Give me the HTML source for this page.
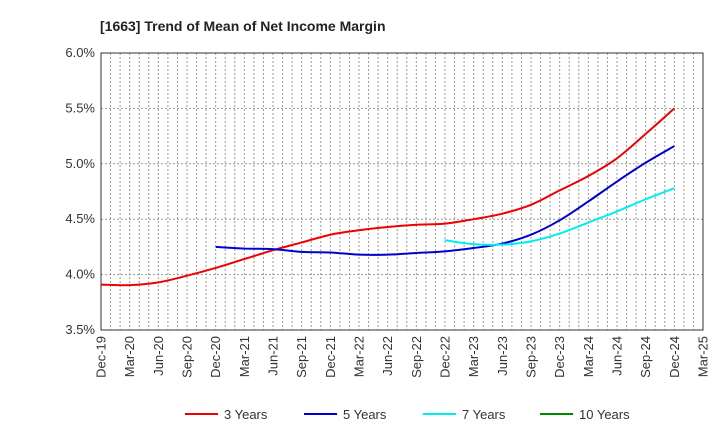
<!DOCTYPE html>
<html><head><meta charset="utf-8"><style>
body{margin:0;background:#fff;font-family:"Liberation Sans",sans-serif}
</style></head><body>
<svg id="c" width="720" height="440" xmlns="http://www.w3.org/2000/svg">
<text x="100" y="31" font-size="14" font-weight="bold" fill="#222">[1663]  Trend of Mean of Net Income Margin</text>
</svg>
<script>
const xLabels=["Dec-19","Mar-20","Jun-20","Sep-20","Dec-20","Mar-21","Jun-21","Sep-21","Dec-21","Mar-22","Jun-22","Sep-22","Dec-22","Mar-23","Jun-23","Sep-23","Dec-23","Mar-24","Jun-24","Sep-24","Dec-24","Mar-25"];
const yTicks=[3.5,4.0,4.5,5.0,5.5,6.0];
const s3=[3.91,3.905,3.93,3.99,4.06,4.14,4.22,4.29,4.36,4.40,4.43,4.45,4.46,4.50,4.55,4.63,4.76,4.89,5.05,5.27,5.50];
const s5=[null,null,null,null,4.25,4.235,4.23,4.205,4.20,4.18,4.18,4.195,4.21,4.24,4.28,4.36,4.49,4.66,4.84,5.01,5.16];
const s7=[null,null,null,null,null,null,null,null,null,null,null,null,4.31,4.275,4.27,4.30,4.37,4.47,4.57,4.68,4.78];
const s10=[];
const L=101,R=703,T=53,B=330;
const svg=document.getElementById('c'),NS="http://www.w3.org/2000/svg";
const X=i=>L+(R-L)*i/(xLabels.length-1);
const Y=v=>B-(v-3.5)/(6.0-3.5)*(B-T);
function mk(t,a,p){const e=document.createElementNS(NS,t);for(const k in a)e.setAttribute(k,a[k]);(p||svg).appendChild(e);return e;}
for(let m=1;m<(xLabels.length-1)*3;m++){const x=L+(R-L)*m/((xLabels.length-1)*3);
const g=mk('line',{x1:x,x2:x,y1:T,y2:B,stroke:'#999','stroke-dasharray':'2,2','stroke-width':1});
}
yTicks.forEach(v=>{const y=Y(v);
if(v>3.5&&v<6){const g=mk('line',{x1:L,x2:R,y1:y,y2:y,stroke:'#999','stroke-dasharray':'2,2'});}
const t=mk('text',{x:L-6,y:y+4,'text-anchor':'end','font-size':13,fill:'#333'});t.textContent=v.toFixed(1)+'%';
});
xLabels.forEach((l,i)=>{const x=X(i);const t=mk('text',{transform:`translate(${x+4.5},${B+6}) rotate(-90)`,'text-anchor':'end','font-size':13,fill:'#333'});t.textContent=l;
});
const fr=mk('rect',{x:L,y:T,width:R-L,height:B-T,fill:'none',stroke:'#333','stroke-width':1});

function path(arr){const p=[];arr.forEach((v,i)=>{if(v!=null)p.push([X(i),Y(v)]);});if(p.length<2)return '';
let d=`M${p[0][0]},${p[0][1]}`;for(let i=0;i<p.length-1;i++){const p0=p[Math.max(0,i-1)],p1=p[i],p2=p[i+1],p3=p[Math.min(p.length-1,i+2)];
d+=` C${p1[0]+(p2[0]-p0[0])/6},${p1[1]+(p2[1]-p0[1])/6} ${p2[0]-(p3[0]-p1[0])/6},${p2[1]-(p3[1]-p1[1])/6} ${p2[0]},${p2[1]}`;}return d;}
[[s3,'#e00','series-3-years'],[s5,'#00c','series-5-years'],[s7,'#0ee','series-7-years'],[s10,'#080','series-10-years']].forEach(([a,c,n])=>{
const d=path(a);if(!d)return;const e=mk('path',{d:d,fill:'none',stroke:c,'stroke-width':2});
});
[['3 Years','#e00',185],['5 Years','#00c',304],['7 Years','#0ee',423],['10 Years','#080',540]].forEach(([l,c,x])=>{
const g=mk('g',{});
mk('line',{x1:x,x2:x+33,y1:414,y2:414,stroke:c,'stroke-width':2},g);
const t=mk('text',{x:x+39,y:419,'font-size':13,fill:'#333'},g);t.textContent=l;});
</script>
</body></html>
